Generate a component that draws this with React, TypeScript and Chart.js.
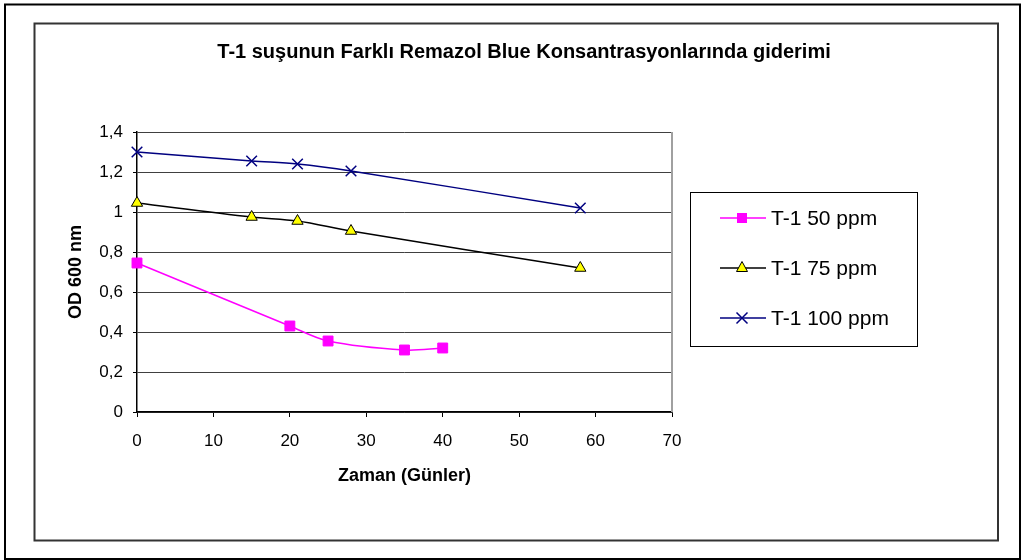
import React, { useEffect, useRef } from "react";
import { Chart, registerables } from "chart.js";

Chart.register(...registerables);

const FONT = "'Liberation Sans', Arial, sans-serif";

const chartTitle = "T-1 suşunun Farklı Remazol Blue Konsantrasyonlarında giderimi";
const xTitle = "Zaman (Günler)";
const yTitle = "OD 600 nm";

const seriesNames = ["T-1 50 ppm", "T-1 75 ppm", "T-1 100 ppm"];

const days50 = [0, 20, 25, 35, 40];
const od50 = [0.745, 0.43, 0.355, 0.31, 0.32];

const days75 = [0, 15, 21, 28, 58];
const od75 = [1.045, 0.975, 0.955, 0.905, 0.72];

const days100 = [0, 15, 21, 28, 58];
const od100 = [1.3, 1.255, 1.24, 1.205, 1.02];

const toPoints = (xs: number[], ys: number[]) => xs.map((x, i) => ({ x, y: ys[i] }));

const formatComma = (v: number) => String(Number(v.toFixed(1))).replace(".", ",");

// Outer frames, chart title, plot frame and the boxed legend
const decorPlugin = {
  id: "decor",
  beforeDraw(chart: any) {
    const ctx = chart.ctx;
    ctx.save();
    ctx.fillStyle = "#ffffff";
    ctx.fillRect(0, 0, chart.width, chart.height);
    ctx.strokeStyle = "#000000";
    ctx.lineWidth = 2;
    ctx.strokeRect(5, 4.5, 1015, 554.5);
    ctx.strokeStyle = "#333333";
    ctx.lineWidth = 2;
    ctx.strokeRect(34.5, 23.5, 963.5, 517);
    ctx.restore();
  },
  afterDraw(chart: any) {
    const ctx = chart.ctx;
    const area = chart.chartArea;
    ctx.save();
    // right edge of the plot frame
    ctx.strokeStyle = "#a0a0a0";
    ctx.lineWidth = 2;
    ctx.beginPath();
    ctx.moveTo(area.right, area.top);
    ctx.lineTo(area.right, area.bottom);
    ctx.stroke();

    // title
    ctx.fillStyle = "#000000";
    ctx.font = `bold 20px ${FONT}`;
    ctx.textAlign = "center";
    ctx.textBaseline = "middle";
    ctx.fillText(chartTitle, 524, 52);

    // legend box
    ctx.strokeStyle = "#000000";
    ctx.lineWidth = 1;
    ctx.strokeRect(690.5, 192.5, 227, 154);
    const rowsY = [218, 268, 318];
    chart.data.datasets.forEach((ds: any, i: number) => {
      const y = rowsY[i];
      ctx.strokeStyle = ds.borderColor;
      ctx.lineWidth = 1.5;
      ctx.beginPath();
      ctx.moveTo(720, y);
      ctx.lineTo(766, y);
      ctx.stroke();
      const cx = 742;
      if (ds.pointStyle === "rect") {
        ctx.fillStyle = ds.pointBackgroundColor;
        ctx.fillRect(cx - 5, y - 5, 10, 10);
      } else if (ds.pointStyle === "triangle") {
        ctx.beginPath();
        ctx.moveTo(cx, y - 6.5);
        ctx.lineTo(cx + 5.5, y + 3.5);
        ctx.lineTo(cx - 5.5, y + 3.5);
        ctx.closePath();
        ctx.fillStyle = ds.pointBackgroundColor;
        ctx.fill();
        ctx.strokeStyle = "#000000";
        ctx.lineWidth = 1;
        ctx.stroke();
      } else {
        ctx.strokeStyle = ds.pointBorderColor;
        ctx.lineWidth = 1.5;
        ctx.beginPath();
        ctx.moveTo(cx - 5.5, y - 5.5);
        ctx.lineTo(cx + 5.5, y + 5.5);
        ctx.moveTo(cx + 5.5, y - 5.5);
        ctx.lineTo(cx - 5.5, y + 5.5);
        ctx.stroke();
      }
      ctx.fillStyle = "#000000";
      ctx.font = `21px ${FONT}`;
      ctx.textAlign = "left";
      ctx.textBaseline = "middle";
      ctx.fillText(ds.label, 771, y + 1);
    });
    ctx.restore();
  },
};

export default function App() {
  const canvasRef = useRef<HTMLCanvasElement | null>(null);

  useEffect(() => {
    if (!canvasRef.current) return;
    Chart.defaults.font.family = FONT;
    const chart = new Chart(canvasRef.current, {
      type: "line",
      data: {
        datasets: [
          {
            label: seriesNames[0],
            data: toPoints(days50, od50),
            borderColor: "#ff00ff",
            backgroundColor: "#ff00ff",
            borderWidth: 1.5,
            tension: 0.33,
            clip: false,
            pointStyle: "rect",
            pointRadius: 7,
            pointBackgroundColor: "#ff00ff",
            pointBorderColor: "#ff00ff",
            pointBorderWidth: 1,
          },
          {
            label: seriesNames[1],
            data: toPoints(days75, od75),
            borderColor: "#000000",
            backgroundColor: "#ffff00",
            borderWidth: 1.5,
            tension: 0.33,
            clip: false,
            pointStyle: "triangle",
            pointRadius: 6.5,
            pointBackgroundColor: "#ffff00",
            pointBorderColor: "#000000",
            pointBorderWidth: 1,
          },
          {
            label: seriesNames[2],
            data: toPoints(days100, od100),
            borderColor: "#000080",
            backgroundColor: "#000080",
            borderWidth: 1.5,
            tension: 0.33,
            clip: false,
            pointStyle: "crossRot",
            pointRadius: 7.5,
            pointBackgroundColor: "#000080",
            pointBorderColor: "#000080",
            pointBorderWidth: 1.5,
          },
        ],
      },
      options: {
        responsive: false,
        animation: false,
        layout: { padding: { left: 37, right: 349, top: 132, bottom: 60 } },
        plugins: {
          legend: { display: false },
          title: { display: false },
          tooltip: { enabled: false },
        },
        scales: {
          x: {
            type: "linear",
            min: 0,
            max: 70,
            afterFit: (scale: any) => {
              scale.height = 88;
            },
            ticks: {
              stepSize: 10,
              padding: 14,
              color: "#000000",
              font: { size: 17 },
            },
            grid: {
              drawOnChartArea: false,
              drawTicks: true,
              tickLength: 5,
              tickColor: "#000000",
            },
            border: { color: "#000000", width: 1.5 },
            title: {
              display: true,
              text: xTitle,
              color: "#000000",
              font: { size: 18, weight: "bold" },
              padding: { top: 0, bottom: 13 },
            },
          },
          y: {
            type: "linear",
            min: 0,
            max: 1.4,
            afterFit: (scale: any) => {
              scale.width = 100;
            },
            ticks: {
              stepSize: 0.2,
              padding: 10,
              color: "#000000",
              font: { size: 17 },
              callback: (v: any) => formatComma(Number(v)),
            },
            grid: {
              color: "#404040",
              lineWidth: 1,
              drawTicks: true,
              tickLength: 4,
              tickColor: "#000000",
            },
            border: { color: "#000000", width: 1.5 },
            title: {
              display: true,
              text: yTitle,
              color: "#000000",
              font: { size: 18, weight: "bold" },
              padding: { top: 28, bottom: 0 },
            },
          },
        },
      },
      plugins: [decorPlugin],
    });
    return () => chart.destroy();
  }, []);

  return (
    <div style={{ position: "absolute", left: 0, top: 0, width: 1021, height: 560, background: "#ffffff" }}>
      <canvas ref={canvasRef} width={1021} height={560} style={{ display: "block" }} />
    </div>
  );
}
